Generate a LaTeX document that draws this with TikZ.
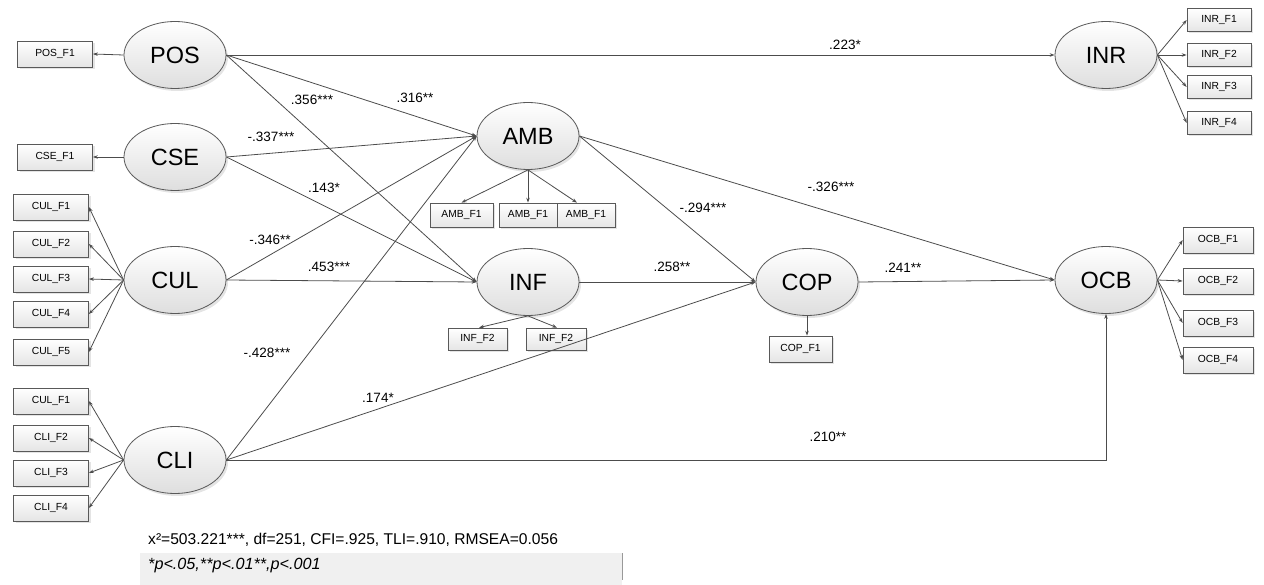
\documentclass[tikz,border=0pt]{standalone}
\usepackage{fontspec}
\setmainfont{Liberation Sans}
\usetikzlibrary{shapes.geometric,arrows.meta,shadows}
\tikzset{
  lat/.style={ellipse, draw=black!65, line width=0.8pt, top color=white, bottom color=black!13,
    minimum width=102pt, minimum height=67pt, inner sep=0pt, font=\fontsize{23.5}{26}\selectfont,
    drop shadow={shadow xshift=2pt, shadow yshift=-2.5pt, opacity=0.3, fill=black!35}},
  ind/.style={rectangle, draw=black!65, line width=0.7pt, top color=white, bottom color=black!10,
    minimum width=75pt, minimum height=26pt, inner sep=0pt, font=\fontsize{10.3}{12}\selectfont,
    drop shadow={shadow xshift=2pt, shadow yshift=-2pt, opacity=0.3, fill=black!35}},
  conn/.style={draw=black!70, line width=0.8pt, -{Stealth[length=5pt,width=3.5pt]}},
  coef/.style={font=\fontsize{13.5}{16}\selectfont, inner sep=1pt},
  note/.style={font=\fontsize{15.6}{18}\selectfont, inner sep=0pt, anchor=west}
}
\begin{document}
\begin{tikzpicture}[x=1pt,y=-1pt]
\useasboundingbox (0,0) rectangle (1264,585);
% footnote band
\fill[black!6] (140,553) rectangle (622,585);
\draw[black!40, line width=1pt] (622,553) -- (622,580);

% latent variables
\node[lat] (POS) at (175,55) {POS};
\node[lat] (CSE) at (175,157) {CSE};
\node[lat] (CUL) at (175,280) {CUL};
\node[lat] (CLI) at (175,460) {CLI};
\node[lat] (AMB) at (528,136) {AMB};
\node[lat] (INF) at (528,282) {INF};
\node[lat] (COP) at (807,282) {COP};
\node[lat] (OCB) at (1106,280) {OCB};
\node[lat] (INR) at (1106,55) {INR};

% indicators left
\node[ind] (posf1) at (55,54) {POS\_F1};
\node[ind] (csef1) at (55,157) {CSE\_F1};
\node[ind] (culf1) at (51,207) {CUL\_F1};
\node[ind] (culf2) at (51,244) {CUL\_F2};
\node[ind] (culf3) at (51,279) {CUL\_F3};
\node[ind] (culf4) at (51,314) {CUL\_F4};
\node[ind] (culf5) at (51,352) {CUL\_F5};
\node[ind] (clif1) at (51,401) {CUL\_F1};
\node[ind] (clif2) at (51,438) {CLI\_F2};
\node[ind] (clif3) at (51,473) {CLI\_F3};
\node[ind] (clif4) at (51,508) {CLI\_F4};
% AMB indicators
\node[ind, minimum width=63pt, minimum height=24pt] (ambf1) at (461.5,215) {AMB\_F1};
\node[ind, minimum width=58pt, minimum height=24pt] (ambf2) at (528,215) {AMB\_F1};
\node[ind, minimum width=58pt, minimum height=24pt] (ambf3) at (586,215) {AMB\_F1};
% INF indicators
\node[ind, minimum width=59pt, minimum height=22pt] (inff1) at (477.5,339) {INF\_F2};
\node[ind, minimum width=60pt, minimum height=22pt] (inff2) at (556,339) {INF\_F2};
% COP indicator
\node[ind, minimum width=63pt, minimum height=26pt] (copf1) at (800.5,349) {COP\_F1};
% INR indicators
\node[ind, minimum width=64pt, minimum height=23pt] (inrf1) at (1219,20) {INR\_F1};
\node[ind, minimum width=64pt, minimum height=23pt] (inrf2) at (1219,55) {INR\_F2};
\node[ind, minimum width=64pt, minimum height=23pt] (inrf3) at (1219,87) {INR\_F3};
\node[ind, minimum width=64pt, minimum height=23pt] (inrf4) at (1219,123) {INR\_F4};
% OCB indicators
\node[ind, minimum width=70pt, minimum height=26pt] (ocbf1) at (1218,240) {OCB\_F1};
\node[ind, minimum width=70pt, minimum height=26pt] (ocbf2) at (1218,281) {OCB\_F2};
\node[ind, minimum width=70pt, minimum height=26pt] (ocbf3) at (1218,323) {OCB\_F3};
\node[ind, minimum width=70pt, minimum height=26pt] (ocbf4) at (1218,360) {OCB\_F4};

% measurement arrows
\draw[conn] (POS.west) -- (posf1.east);
\draw[conn] (CSE.west) -- (csef1.east);
\foreach \b in {culf1,culf2,culf3,culf4,culf5} \draw[conn] (CUL.west) -- (\b.east);
\foreach \b in {clif1,clif2,clif3,clif4} \draw[conn] (CLI.west) -- (\b.east);
\draw[conn] (AMB.south) -- (ambf1.north);
\draw[conn] (AMB.south) -- (ambf2.north);
\draw[conn] (AMB.south) -- ([xshift=-9pt]ambf3.north);
\draw[conn] (INF.south) -- ([xshift=1.5pt]inff1.north);
\draw[conn] (INF.south) -- ([xshift=1pt]inff2.north);
\draw[conn] (COP.south) -- (COP.south |- copf1.north);
\foreach \b in {inrf1,inrf2,inrf3,inrf4} \draw[conn] (INR.east) -- (\b.west);
\foreach \b in {ocbf1,ocbf2,ocbf3,ocbf4} \draw[conn] (OCB.east) -- (\b.west);

% structural paths
\draw[conn] (POS.east) -- (INR.west);
\draw[conn] (POS.east) -- (AMB.west);
\draw[conn] (POS.east) -- (INF.west);
\draw[conn] (CSE.east) -- (AMB.west);
\draw[conn] (CSE.east) -- (INF.west);
\draw[conn] (CUL.east) -- (AMB.west);
\draw[conn] (CUL.east) -- (INF.west);
\draw[conn] (CLI.east) -- (AMB.west);
\draw[conn] (CLI.east) -- (COP.west);
\draw[conn] (CLI.east) -| (OCB.south);
\draw[conn] (AMB.east) -- (COP.west);
\draw[conn] (AMB.east) -- (OCB.west);
\draw[conn] (INF.east) -- (COP.west);
\draw[conn] (COP.east) -- (OCB.west);

% coefficients
\node[coef] (l223) at (845,45) {.223*};
\node[coef] (l316) at (415,98) {.316**};
\node[coef] (l356) at (312,100) {.356***};
\node[coef] (l337) at (271,137) {-.337***};
\node[coef] (l143) at (324,188) {.143*};
\node[coef] (l346) at (270,240) {-.346**};
\node[coef] (l453) at (329,267) {.453***};
\node[coef] (l428) at (267,353) {-.428***};
\node[coef] (l174) at (378,398) {.174*};
\node[coef] (l210) at (828,437) {.210**};
\node[coef] (l294) at (703,208) {-.294***};
\node[coef] (l326) at (831,187) {-.326***};
\node[coef] (l258) at (672,267) {.258**};
\node[coef] (l241) at (903,268) {.241**};

% notes
\node[note] (fit) at (148,540) {x²=503.221***, df=251, CFI=.925, TLI=.910, RMSEA=0.056};
\node[note, font=\fontsize{16.2}{18}\selectfont\itshape] (sig) at (148,566) {*p<.05,**p<.01**,p<.001};
\end{tikzpicture}
\end{document}
